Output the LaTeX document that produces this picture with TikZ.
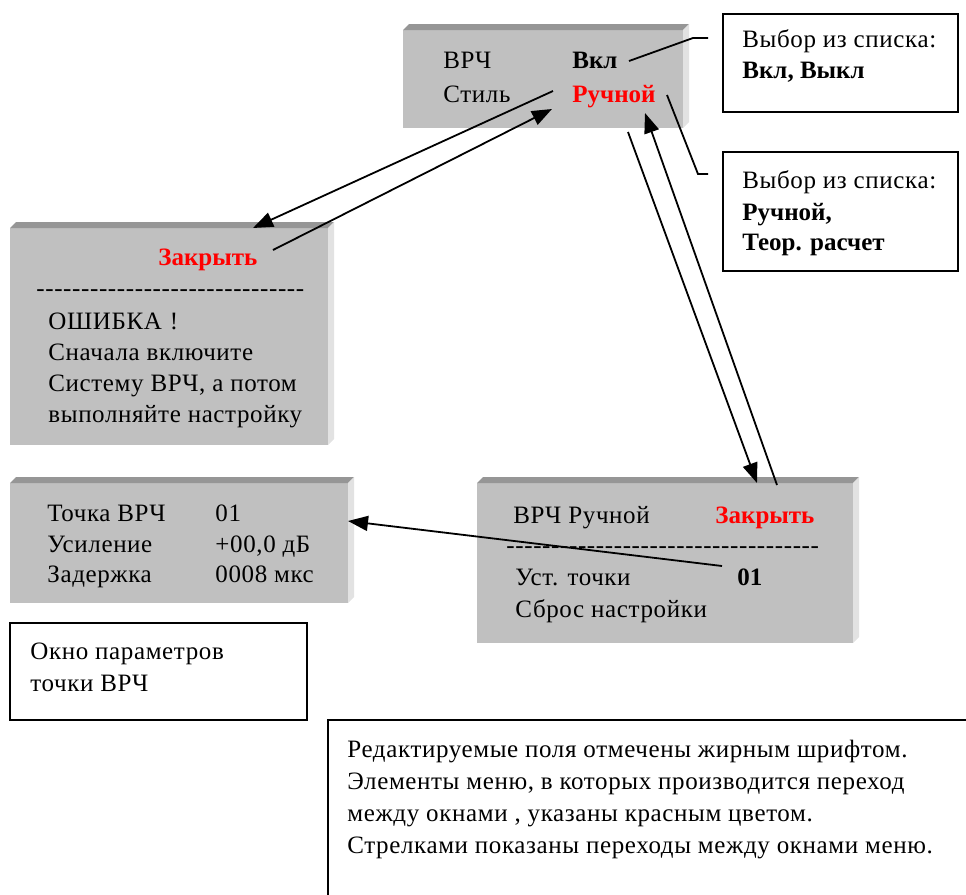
\documentclass[tikz,border=0pt]{standalone}
\usepackage{fontspec}
\setmainfont{Liberation Serif}[LetterSpace=2.5, BoldFeatures={LetterSpace=0}]
\usetikzlibrary{arrows.meta}
\definecolor{winface}{RGB}{192,192,192}
\definecolor{wintop}{RGB}{150,150,150}
\definecolor{winside}{RGB}{226,226,226}
\newcommand{\hyphrow}[1]{\foreach \k in {1,...,#1}{-{}}}

\begin{document}
\begin{tikzpicture} [x=0.5pt, y=-0.5pt,
  lbl/.style={inner sep=0pt, anchor=base west, font=\fontsize{12.5}{15}\selectfont},
  fld/.style={lbl, font=\fontsize{12.5}{15}\selectfont\bfseries},
  jump/.style={fld, text=red},
  link/.style={black, line width=0.9pt, -{Triangle[length=10pt,width=7.5pt]}},
  lead/.style={black, line width=0.9pt}]
\useasboundingbox (0,0) rectangle (966,895);
\foreach \xa/\ya/\xb/\yb in {403/30/683/128, 10/228/328/445, 10/483/348/603, 477/483/853/643} {
 \fill[winface] (\xa,\ya) rectangle (\xb,\yb);
 \fill[wintop] (\xa,\ya) -- ({\xa+6},{\ya-6}) -- ({\xb+6},{\ya-6}) -- (\xb,\ya) -- cycle;
 \fill[winside] (\xb,\ya) -- ({\xb+6},{\ya-6}) -- ({\xb+6},{\yb-6}) -- (\xb,\yb) -- cycle;
}
\draw[line width=1pt] (723,14) rectangle (958,112);
\draw[line width=1pt] (723,152) rectangle (958,271);
\draw[line width=1pt] (10,623) rectangle (307,720);
\draw[line width=1pt] (970,720) -- (328,720) -- (328,900);

\node[lbl] (vrch) at (443,68) {ВРЧ};
\node[fld] (vkl) at (572,68) {Вкл};
\node[lbl] (style) at (443,102) {Стиль};
\node[jump] (manual) at (572,102) {Ручной};

\node[jump] (errclose) at (158,265) {Закрыть};
\node[lbl] (errsep) at (36,296) {\hyphrow{30}};
\foreach \t [count=\i] in {ОШИБКА\hspace{4pt}!, Сначала включите, {Систему ВРЧ, а потом}, выполняйте настройку}
 \node[lbl] (err\i) at (48,{298+31*\i}) {\t};

\foreach \t/\v [count=\i] in {Точка ВРЧ/01, Усиление/{+00,0 дБ}, Задержка/0008 мкс} {
 \node[lbl] (par\i) at (47,{491+30.5*\i}) {\t};
 \node[lbl] (val\i) at (215,{491+30.5*\i}) {\v};
}

\node[lbl] (manhead) at (513,523) {ВРЧ Ручной};
\node[jump] (manclose) at (715,523) {Закрыть};
\node[lbl] (mansep) at (506,553) {\hyphrow{35}};
\node[lbl] (setpt) at (515,585) {Уст. точки};
\node[fld] (ptnum) at (737,585) {01};
\node[lbl] (reset) at (515,617) {Сброс настройки};

\node[lbl] (pick1) at (742,47) {Выбор из списка:};
\node[fld] (onoff) at (742,78) {Вкл, Выкл};
\node[lbl] (pick2) at (742,188) {Выбор из списка:};
\node[fld] (opt1) at (742,220) {Ручной,};
\node[fld] (opt2) at (742,250) {Теор. расчет};

\node[lbl] (win1) at (30,659) {Окно параметров};
\node[lbl] (win2) at (30,691) {точки ВРЧ};

\foreach \t [count=\i] in {Редактируемые поля отмечены жирным шрифтом., {Элементы меню, в которых производится переход}, {между окнами , указаны красным цветом.}, Стрелками показаны переходы между окнами меню.}
 \node[lbl] (note\i) at (347,{725+32*\i}) {\t};

\coordinate (manualout) at (553,91);
\coordinate (errin) at (253,228);
\coordinate (errout) at (273,250);
\coordinate (manualin) at (552,109);
\coordinate (manualdn) at (628,132);
\coordinate (setin) at (757,483);
\coordinate (setout) at (777,485);
\coordinate (manualup) at (645,113);
\coordinate (pointout) at (722,566);
\coordinate (parin) at (348,521);
\coordinate (vkltail) at (629,61);
\coordinate (bend1) at (693,38);
\coordinate (tip1) at (708,38);
\coordinate (manualtail) at (667,95);
\coordinate (bend2) at (698,174);
\coordinate (tip2) at (708,174);

\draw[link] (manualout) -- (errin);
\draw[link] (errout) -- (manualin);
\draw[link] (manualdn) -- (setin);
\draw[link] (setout) -- (manualup);
\draw[link] (pointout) -- (parin);
\draw[lead] (vkltail) -- (bend1) -- (tip1);
\draw[lead] (manualtail) -- (bend2) -- (tip2);
\end{tikzpicture}
\end{document}
